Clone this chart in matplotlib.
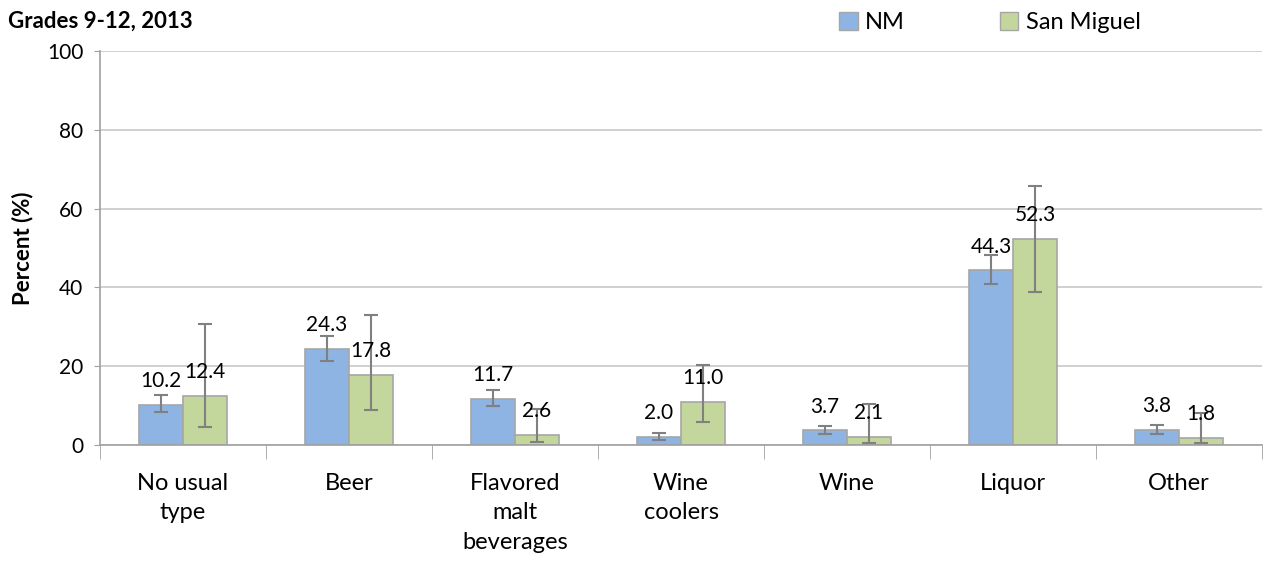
import numpy as np
import matplotlib.pyplot as plt
from matplotlib.patches import Patch

categories = ["No usual\ntype", "Beer", "Flavored\nmalt\nbeverages", "Wine\ncoolers",
              "Wine", "Liquor", "Other"]
nm = [10.2, 24.3, 11.7, 2.0, 3.7, 44.3, 3.8]
nm_lo = [8.4, 21.3, 9.9, 1.3, 2.9, 40.8, 2.8]
nm_hi = [12.7, 27.7, 14.0, 3.1, 4.9, 48.1, 5.2]
sm = [12.4, 17.8, 2.6, 11.0, 2.1, 52.3, 1.8]
sm_lo = [4.6, 8.9, 0.8, 5.8, 0.5, 38.8, 0.4]
sm_hi = [30.7, 33.0, 9.1, 20.4, 10.4, 65.8, 8.1]
yticks = [0, 20, 40, 60, 80, 100]

plt.rcParams['font.family'] = ['Lato', 'DejaVu Sans']

blue = "#8EB4E3"
green = "#C3D69B"
edge = "#A6A6A6"
errc = "#808080"

fig = plt.figure(figsize=(12.69, 5.65), dpi=100)
ax = fig.add_axes([0.0788, 0.2124, 0.9157, 0.6973])

x = np.arange(len(categories))
w = 0.265

def draw(offset, vals, lo, hi, color):
    vals = np.array(vals)
    err = [vals - np.array(lo), np.array(hi) - vals]
    bars = ax.bar(x + offset, vals, w, color=color, edgecolor=edge, linewidth=1.2, zorder=2)
    ax.errorbar(x + offset, vals, yerr=err, fmt='none', ecolor=errc, elinewidth=1.5,
                capsize=5, capthick=1.5, zorder=3)
    for b, v in zip(bars, vals):
        ax.annotate("{:.1f}".format(v), (b.get_x() + b.get_width() / 2, v),
                    xytext=(0, 10), textcoords="offset points", ha="center", va="bottom",
                    fontsize=15, zorder=4)
    return bars

draw(-w / 2, nm, nm_lo, nm_hi, blue)
draw(w / 2, sm, sm_lo, sm_hi, green)

ax.set_ylim(0, 100)
ax.set_xlim(-0.5, len(categories) - 0.5)
ax.set_yticks(yticks)
ax.yaxis.grid(True, color="#C8C8C8", linewidth=1.2, zorder=0)
ax.set_axisbelow(True)
ax.tick_params(axis='y', labelsize=15, length=4, color="#A0A0A0", pad=8)

ax.set_xticks(x)
ax.set_xticklabels(categories, fontsize=17, va="top", linespacing=1.5)
ax.tick_params(axis='x', length=0, pad=20)
ax.set_xticks(np.arange(-0.5, len(categories) + 0.5, 1), minor=True)
ax.tick_params(axis='x', which='minor', length=10, color="#A0A0A0")

for s in ["top", "right"]:
    ax.spines[s].set_visible(False)
for s in ["left", "bottom"]:
    ax.spines[s].set_color("#A0A0A0")
    ax.spines[s].set_linewidth(1.2)

ax.set_ylabel("Percent (%)", fontsize=16, fontweight="bold", labelpad=10)
fig.text(0.006, 0.962, "Grades 9-12, 2013", fontsize=16, fontweight="bold", va="center")

handles = [Patch(facecolor=blue, edgecolor=edge), Patch(facecolor=green, edgecolor=edge)]
fig.legend(handles, ["NM", "San Miguel"], loc="center", bbox_to_anchor=(0.78, 0.96),
           ncol=2, frameon=False, fontsize=17, handlelength=0.8, handleheight=0.8,
           handletextpad=0.3, columnspacing=4.0)

fig.savefig("out.png", dpi=100)
